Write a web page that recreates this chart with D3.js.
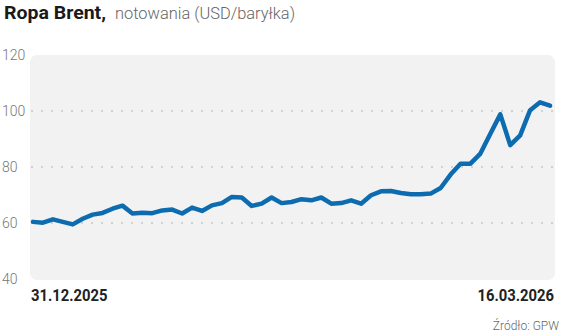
<!DOCTYPE html>
<html>
<head>
<meta charset="utf-8">
<script src="https://cdn.jsdelivr.net/npm/d3@7"></script>
<style>
	body { margin: 0; background: #fff; }
	svg { display: block; font-family: Roboto, "Open Sans", sans-serif; }
</style>
</head>
<body>
<div id="chart"></div>
<script>
// Brent quotes, USD per barrel, trading days 31.12.2025 - 16.03.2026
var prices = [60.4, 60.1, 61.3, 60.4, 59.5, 61.5, 63.0, 63.6, 65.1, 66.2,
	63.4, 63.7, 63.5, 64.5, 64.8, 63.4, 65.5, 64.3, 66.3, 67.1,
	69.3, 69.1, 66.1, 66.9, 69.1, 67.1, 67.5, 68.5, 68.1, 69.1,
	66.9, 67.1, 68.1, 66.9, 69.9, 71.3, 71.4, 70.7, 70.3, 70.3,
	70.5, 72.5, 77.3, 81.2, 81.2, 84.8, 91.9, 98.8, 87.8, 91.3,
	100.3, 103.1, 101.9];
var dateLabels = ["31.12.2025", "16.03.2026"];
var yTicks = [40, 60, 80, 100, 120];
var gridTicks = [60, 80, 100];

var width = 564, height = 334;

var svg = d3.select("#chart")
		.append("svg")
		.attr("width", width)
		.attr("height", height);

var x = d3.scaleLinear().domain([0, prices.length - 1]).range([33, 550]);
var y = d3.scaleLinear().domain([40, 120]).range([279, 55]);

// title
svg.append("text")
		.attr("x", 4)
		.attr("y", 19)
		.attr("font-size", 19)
		.attr("font-weight", 700)
		.attr("fill", "#1a1a1a")
		.attr("textLength", 102)
		.attr("lengthAdjust", "spacingAndGlyphs")
		.text("Ropa Brent,");
svg.append("text")
		.attr("x", 115)
		.attr("y", 19)
		.attr("font-size", 17)
		.attr("font-weight", 300)
		.attr("fill", "#666")
		.attr("textLength", 180)
		.attr("lengthAdjust", "spacingAndGlyphs")
		.text("notowania (USD/baryłka)");

// grey plot background
svg.append("rect")
		.attr("x", 30)
		.attr("y", y(120))
		.attr("width", 525)
		.attr("height", y(40) - y(120) + 1)
		.attr("rx", 7)
		.attr("fill", "#f2f2f2");

// dotted grid
svg.selectAll(".grid")
		.data(gridTicks)
		.enter()
		.append("line")
		.attr("class", "grid")
		.attr("x1", 31)
		.attr("x2", 554)
		.attr("y1", function(d) { return y(d); })
		.attr("y2", function(d) { return y(d); })
		.attr("stroke", "#d2d2d2")
		.attr("stroke-width", 2)
		.attr("stroke-dasharray", "2,8");

// y labels
svg.selectAll(".ylab")
		.data(yTicks)
		.enter()
		.append("text")
		.attr("class", "ylab")
		.attr("x", 2)
		.attr("y", function(d) { return y(d) + 5; })
		.attr("font-size", 14)
		.attr("font-weight", 300)
		.attr("fill", "#777")
		.text(function(d) { return d; });

// price line
var line = d3.line()
		.x(function(d, i) { return x(i); })
		.y(function(d) { return y(d); });

svg.append("path")
		.datum(prices)
		.attr("d", line)
		.attr("fill", "none")
		.attr("stroke", "#0d6cb0")
		.attr("stroke-width", 4.5)
		.attr("stroke-linejoin", "round")
		.attr("stroke-linecap", "round");

// first / last date (condensed look)
svg.append("text")
		.attr("transform", "translate(31,301) scale(0.87,1)")
		.attr("font-size", 17)
		.attr("font-weight", 700)
		.attr("fill", "#222")
		.text(dateLabels[0]);
svg.append("text")
		.attr("transform", "translate(554,301) scale(0.87,1)")
		.attr("text-anchor", "end")
		.attr("font-size", 17)
		.attr("font-weight", 700)
		.attr("fill", "#222")
		.text(dateLabels[1]);

// source
svg.append("text")
		.attr("x", 559)
		.attr("y", 330)
		.attr("text-anchor", "end")
		.attr("font-size", 12)
		.attr("font-weight", 300)
		.attr("fill", "#666")
		.text("Źródło: GPW");
</script>
</body>
</html>
